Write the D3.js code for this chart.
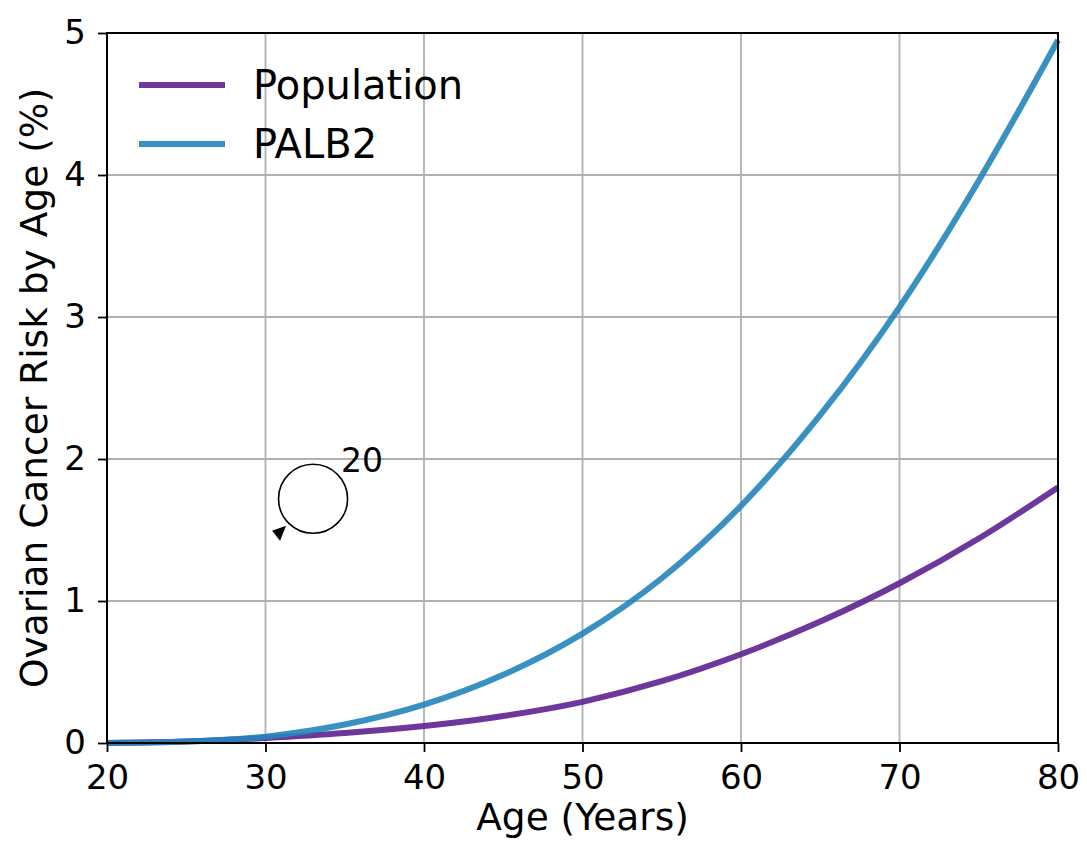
<!DOCTYPE html>
<html>
<head>
<meta charset="utf-8">
<script src="https://cdn.jsdelivr.net/npm/d3@7"></script>
<style>
html,body{margin:0;padding:0;background:#fff;}
svg{display:block;font-family:"DejaVu Sans",sans-serif;}
</style>
</head>
<body>
<svg id="chart" width="1087" height="844"></svg>
<script>
const ages = [20, 25, 30, 35, 40, 45, 50, 55, 60, 65, 70, 75, 80];
const population = [0.0, 0.01, 0.035, 0.07, 0.12, 0.19, 0.29, 0.435, 0.625, 0.855, 1.125, 1.44, 1.80];
const palb2 = [0.0, 0.01, 0.045, 0.13, 0.27, 0.48, 0.77, 1.16, 1.67, 2.31, 3.07, 3.96, 4.95];
const xTicks = [20, 30, 40, 50, 60, 70, 80];
const yTicks = [0, 1, 2, 3, 4, 5];
const seriesNames = ["Population", "PALB2"];
const seriesColors = ["#5d2191", "#2385bb"];
const annotationText = "20";
const annotationAt = [33, 1.72];

const svg = d3.select("#chart");
const m = {left:107, right:1058, top:33, bottom:743};
const x = d3.scaleLinear().domain([20, 80]).range([m.left, m.right]);
const y = d3.scaleLinear().domain([0, 5]).range([m.bottom, m.top]);

// grid
const grid = svg.append("g");
grid.selectAll("line.gx").data(xTicks).join("line")
  .attr("x1", d => x(d)).attr("x2", d => x(d)).attr("y1", m.top).attr("y2", m.bottom)
  .attr("stroke", "#b0b0b0").attr("stroke-width", 1.8);
grid.selectAll("line.gy").data(yTicks).join("line")
  .attr("y1", d => y(d)).attr("y2", d => y(d)).attr("x1", m.left).attr("x2", m.right)
  .attr("stroke", "#b0b0b0").attr("stroke-width", 1.8);

// lines
const data = [population, palb2];
const line = d3.line().x((d, i) => x(ages[i])).y(d => y(d)).curve(d3.curveMonotoneX);
data.forEach((s, k) => {
  svg.append("path").datum(s).attr("d", line)
    .attr("fill", "none").attr("stroke", seriesColors[k]).attr("stroke-width", 6)
    .attr("stroke-opacity", 0.9).attr("stroke-linecap", "butt");
});

// axes
const tickFs = 34, labelFs = 37.5, legendFs = 40, annFs = 33;
const xAxis = d3.axisBottom(x).tickValues(xTicks).tickSize(9).tickPadding(13).tickFormat(d3.format("d"));
const yAxis = d3.axisLeft(y).tickValues(yTicks).tickSize(9).tickPadding(12).tickFormat(d3.format("d"));
const gx = svg.append("g").attr("transform", `translate(0,${m.bottom})`).call(xAxis);
const gy = svg.append("g").attr("transform", `translate(${m.left},0)`).call(yAxis);
[gx, gy].forEach(g => {
  g.select(".domain").remove();
  g.selectAll(".tick line").attr("stroke", "#000").attr("stroke-width", 1.8);
  g.selectAll(".tick text").attr("font-size", tickFs).attr("fill", "#000").attr("font-family", "DejaVu Sans");
});
// spines
svg.append("rect").attr("x", m.left).attr("y", m.top).attr("width", m.right - m.left).attr("height", m.bottom - m.top)
  .attr("fill", "none").attr("stroke", "#000").attr("stroke-width", 2);

// labels
svg.append("text").attr("x", (m.left + m.right) / 2).attr("y", 830).attr("text-anchor", "middle")
  .attr("font-size", labelFs).text("Age (Years)");
svg.append("text").attr("transform", `translate(47,${(m.top + m.bottom) / 2}) rotate(-90)`)
  .attr("text-anchor", "middle").attr("font-size", labelFs).text("Ovarian Cancer Risk by Age (%)");

// legend
const leg = svg.append("g");
seriesNames.forEach((n, i) => {
  const yy = 85 + i * 59;
  leg.append("line").attr("x1", 139).attr("x2", 225).attr("y1", yy).attr("y2", yy)
    .attr("stroke", seriesColors[i]).attr("stroke-width", 6).attr("stroke-opacity", 0.9);
  leg.append("text").attr("x", 253).attr("y", yy + 14).attr("font-size", legendFs).text(n);
});

// annotation
const cx = x(annotationAt[0]), cy = y(annotationAt[1]);
svg.append("circle").attr("cx", cx).attr("cy", cy).attr("r", 34.5)
  .attr("fill", "none").attr("stroke", "#000").attr("stroke-width", 1.6);
svg.append("path").attr("d", `M${cx-41},${cy+32} L${cx-27},${cy+27} L${cx-33},${cy+42} Z`).attr("fill", "#000");
svg.append("text").attr("x", cx + 28).attr("y", cy - 27).attr("font-size", annFs).text(annotationText);
</script>
</body>
</html>
